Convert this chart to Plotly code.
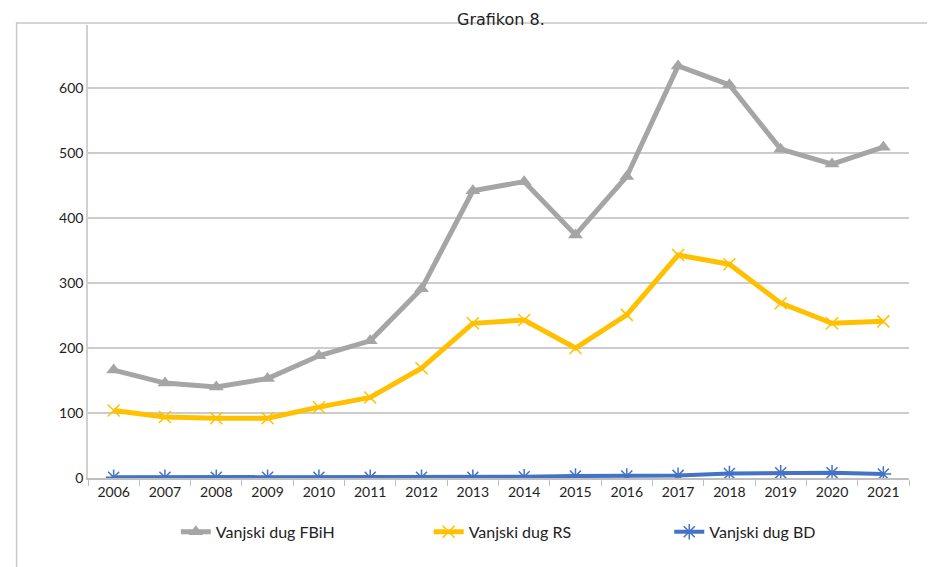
import plotly.graph_objects as go

years = [str(y) for y in range(2006, 2022)]
fbih = [166, 146, 140, 153, 188, 211, 291, 442, 456, 374, 464, 634, 605, 506, 483, 509]
rs = [104, 94, 92, 92, 109, 124, 169, 238, 243, 200, 251, 343, 329, 269, 238, 241]
bd = [1, 1, 1, 1, 1, 1, 1, 1, 2, 3, 3, 4, 7, 8, 8, 6]
names = ["Vanjski dug FBiH", "Vanjski dug RS", "Vanjski dug BD"]

FONT = "Lato, DejaVu Sans, sans-serif"
TXT = "#222222"

fig = go.Figure()
fig.add_trace(go.Scatter(x=years, y=fbih, name=names[0], mode="lines+markers", legend="legend",
                         line=dict(color="#A5A5A5", width=5),
                         marker=dict(symbol="triangle-up", size=13, color="#A5A5A5")))
fig.add_trace(go.Scatter(x=years, y=rs, name=names[1], mode="lines+markers", legend="legend2",
                         line=dict(color="#FFC000", width=5),
                         marker=dict(symbol="x-thin-open", size=12,
                                     line=dict(color="#FFE699", width=1.5))))
fig.add_trace(go.Scatter(x=years, y=bd, name=names[2], mode="lines+markers", legend="legend3",
                         line=dict(color="#4472C4", width=4),
                         marker=dict(symbol="asterisk-open", size=13,
                                     line=dict(color="#9DB7E6", width=1.5))))

leg_common = dict(orientation="h", xanchor="left", y=-0.119, yanchor="middle",
                  font=dict(family=FONT, size=16, color=TXT), itemwidth=30,
                  bgcolor="rgba(0,0,0,0)")

fig.update_layout(
    width=927, height=559,
    margin=dict(l=80, r=26, t=17, b=89, autoexpand=False),
    paper_bgcolor="white", plot_bgcolor="white",
    font=dict(family=FONT, size=14, color=TXT),
    showlegend=True,
    legend=dict(x=0.107, **leg_common),
    legend2=dict(x=0.415, **leg_common),
    legend3=dict(x=0.708, **leg_common),
    xaxis=dict(type="category", tickson="boundaries", ticks="outside", ticklen=6,
               tickcolor="#BFBFBF", showline=True, linecolor="#BFBFBF", linewidth=1.5,
               showgrid=False, tickfont=dict(family=FONT, size=14, color=TXT),
               range=[-0.5, 15.5]),
    yaxis=dict(range=[0, 697], dtick=100, showgrid=True, gridcolor="#CCCCCC", gridwidth=1.5,
               showline=True, linecolor="#D0D0D0", linewidth=1.5, zeroline=False,
               ticks="", tickfont=dict(family=FONT, size=14, color=TXT)),
)

fig.add_shape(type="rect", xref="paper", yref="paper",
              x0=-0.087, x1=1.2, y0=-0.4, y1=1.0044,
              line=dict(color="#C8C8C8", width=1.5), fillcolor="rgba(0,0,0,0)", layer="below")

fig.add_annotation(text="Grafikon 8.", xref="paper", yref="paper", x=0.503, y=1.0375,
                   xanchor="center", yanchor="top", showarrow=False,
                   font=dict(family="DejaVu Sans, sans-serif", size=16, color=TXT))

fig.write_html("out.html")
